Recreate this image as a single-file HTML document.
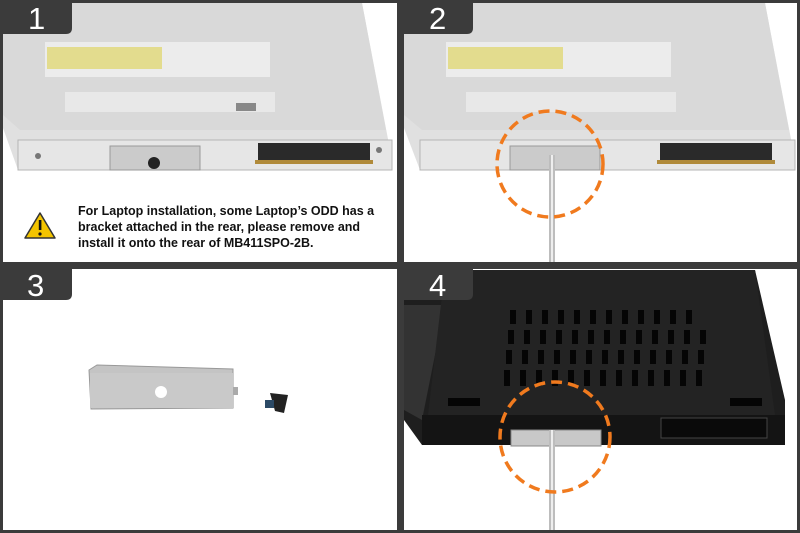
<!DOCTYPE html>
<html><head><meta charset="utf-8"><style>
html,body{margin:0;padding:0;background:#3b3b3b;}
svg{display:block}
text{font-family:"Liberation Sans",Arial,sans-serif}
</style></head><body>
<svg width="800" height="533" viewBox="0 0 800 533" xmlns="http://www.w3.org/2000/svg">
<rect width="800" height="533" fill="#3b3b3b"/>
<rect x="3" y="3" width="394" height="259" fill="#fff"/>
<rect x="404" y="3" width="393" height="259" fill="#fff"/>
<rect x="3" y="269" width="394" height="261" fill="#fff"/>
<rect x="404" y="269" width="393" height="261" fill="#fff"/>

<g>
<polygon points="3,3 362,3 392,160 392,170 18,170 3,128" fill="#e0e0e0"/>
<polygon points="3,3 362,3 386,130 20,130 3,115" fill="#d9d9d9"/>
<rect x="18" y="140" width="374" height="30" fill="#e6e6e6" stroke="#b5b5b5"/>
<rect x="45" y="42" width="225" height="35" fill="#ececec"/>
<rect x="47" y="47" width="115" height="22" fill="#e3dc8e"/>
<rect x="65" y="92" width="210" height="20" fill="#e8e8e8"/>
<rect x="236" y="103" width="20" height="8" fill="#888"/>
<rect x="110" y="146" width="90" height="24" fill="#cbcbcb" stroke="#999"/>
<circle cx="154" cy="163" r="6" fill="#222"/>
<rect x="258" y="143" width="112" height="20" fill="#2a2a2a"/>
<rect x="255" y="160" width="118" height="4" fill="#b08a3a"/>
<circle cx="38" cy="156" r="3" fill="#777"/>
<circle cx="379" cy="150" r="3" fill="#777"/>
</g>
<path d="M0,0 H72 V28 Q72,34 66,34 H0 Z" fill="#3b3b3b"/>
<text x="28" y="29" fill="#fff" font-size="31">1</text>
<polygon points="40,213 55,238 25,238" fill="#f3c400" stroke="#333" stroke-width="1.5" stroke-linejoin="round"/>
<rect x="38.8" y="220" width="2.6" height="10" fill="#111"/>
<circle cx="40" cy="234" r="1.6" fill="#111"/>
<text font-size="12.5" font-weight="bold" fill="#111">
<tspan x="78" y="215">For Laptop installation, some Laptop’s ODD has a</tspan>
<tspan x="78" y="231">bracket attached in the rear, please remove and</tspan>
<tspan x="78" y="247">install it onto the rear of MB411SPO-2B.</tspan>
</text>

<g>
<polygon points="404,3 765,3 795,160 795,170 420,170 404,128" fill="#e0e0e0"/>
<polygon points="404,3 765,3 789,130 422,130 404,115" fill="#d9d9d9"/>
<rect x="420" y="140" width="375" height="30" fill="#e6e6e6" stroke="#b5b5b5"/>
<rect x="446" y="42" width="225" height="35" fill="#ececec"/>
<rect x="448" y="47" width="115" height="22" fill="#e3dc8e"/>
<rect x="466" y="92" width="210" height="20" fill="#e8e8e8"/>
<rect x="510" y="146" width="90" height="24" fill="#cbcbcb" stroke="#999"/>
<rect x="660" y="143" width="112" height="20" fill="#2a2a2a"/>
<rect x="657" y="160" width="118" height="4" fill="#b08a3a"/>
<rect x="549" y="155" width="6" height="107" fill="#bdbdbd"/>
<rect x="551" y="155" width="2" height="107" fill="#eee"/>
<circle cx="550" cy="164" r="53" fill="none" stroke="#f07a1e" stroke-width="3.5" stroke-dasharray="11 6"/>
</g>
<path d="M401,0 H473 V28 Q473,34 467,34 H401 Z" fill="#3b3b3b"/>
<text x="429" y="29" fill="#fff" font-size="31">2</text>

<polygon points="89,370 97,365 233,369 233,408 91,409" fill="#c4c4c4" stroke="#999"/>
<rect x="90" y="373" width="143" height="35" fill="#c9c9c9"/>
<circle cx="161" cy="392" r="6" fill="#fff"/>
<rect x="233" y="387" width="5" height="8" fill="#aaa"/>
<polygon points="270,393 288,395 284,413 275,411" fill="#222"/>
<rect x="265" y="400" width="9" height="8" fill="#2c4a66"/>
<path d="M0,266 H72 V294 Q72,300 66,300 H0 Z" fill="#3b3b3b"/>
<text x="27" y="296" fill="#fff" font-size="31">3</text>

<polygon points="404,270 755,270 785,400 785,445 422,445 404,420" fill="#1e1e1e"/>
<polygon points="404,305 445,305 422,420 404,410" fill="#333"/>
<polygon points="445,270 755,270 775,415 428,415" fill="#232323"/>
<rect x="422" y="415" width="363" height="30" fill="#141414"/>
<g fill="#050505">
<rect x="510" y="310" width="6" height="14"/><rect x="526" y="310" width="6" height="14"/><rect x="542" y="310" width="6" height="14"/><rect x="558" y="310" width="6" height="14"/><rect x="574" y="310" width="6" height="14"/><rect x="590" y="310" width="6" height="14"/><rect x="606" y="310" width="6" height="14"/><rect x="622" y="310" width="6" height="14"/><rect x="638" y="310" width="6" height="14"/><rect x="654" y="310" width="6" height="14"/><rect x="670" y="310" width="6" height="14"/><rect x="686" y="310" width="6" height="14"/>
<rect x="508" y="330" width="6" height="14"/><rect x="524" y="330" width="6" height="14"/><rect x="540" y="330" width="6" height="14"/><rect x="556" y="330" width="6" height="14"/><rect x="572" y="330" width="6" height="14"/><rect x="588" y="330" width="6" height="14"/><rect x="604" y="330" width="6" height="14"/><rect x="620" y="330" width="6" height="14"/><rect x="636" y="330" width="6" height="14"/><rect x="652" y="330" width="6" height="14"/><rect x="668" y="330" width="6" height="14"/><rect x="684" y="330" width="6" height="14"/><rect x="700" y="330" width="6" height="14"/>
<rect x="506" y="350" width="6" height="14"/><rect x="522" y="350" width="6" height="14"/><rect x="538" y="350" width="6" height="14"/><rect x="554" y="350" width="6" height="14"/><rect x="570" y="350" width="6" height="14"/><rect x="586" y="350" width="6" height="14"/><rect x="602" y="350" width="6" height="14"/><rect x="618" y="350" width="6" height="14"/><rect x="634" y="350" width="6" height="14"/><rect x="650" y="350" width="6" height="14"/><rect x="666" y="350" width="6" height="14"/><rect x="682" y="350" width="6" height="14"/><rect x="698" y="350" width="6" height="14"/>
<rect x="504" y="370" width="6" height="16"/><rect x="520" y="370" width="6" height="16"/><rect x="536" y="370" width="6" height="16"/><rect x="552" y="370" width="6" height="16"/><rect x="568" y="370" width="6" height="16"/><rect x="584" y="370" width="6" height="16"/><rect x="600" y="370" width="6" height="16"/><rect x="616" y="370" width="6" height="16"/><rect x="632" y="370" width="6" height="16"/><rect x="648" y="370" width="6" height="16"/><rect x="664" y="370" width="6" height="16"/><rect x="680" y="370" width="6" height="16"/><rect x="696" y="370" width="6" height="16"/>
<rect x="448" y="398" width="32" height="8"/><rect x="730" y="398" width="32" height="8"/>
</g>
<rect x="661" y="418" width="106" height="20" fill="#0a0a0a" stroke="#444"/>
<rect x="511" y="430" width="90" height="16" fill="#c8c8c8" stroke="#888"/>
<rect x="549" y="430" width="6" height="100" fill="#bdbdbd"/>
<rect x="551" y="430" width="2" height="100" fill="#eee"/>
<circle cx="555" cy="437" r="55" fill="none" stroke="#f07a1e" stroke-width="3.5" stroke-dasharray="11 6"/>
<path d="M401,266 H473 V294 Q473,300 467,300 H401 Z" fill="#3b3b3b"/>
<text x="429" y="296" fill="#fff" font-size="31">4</text>
</svg>
</body></html>
